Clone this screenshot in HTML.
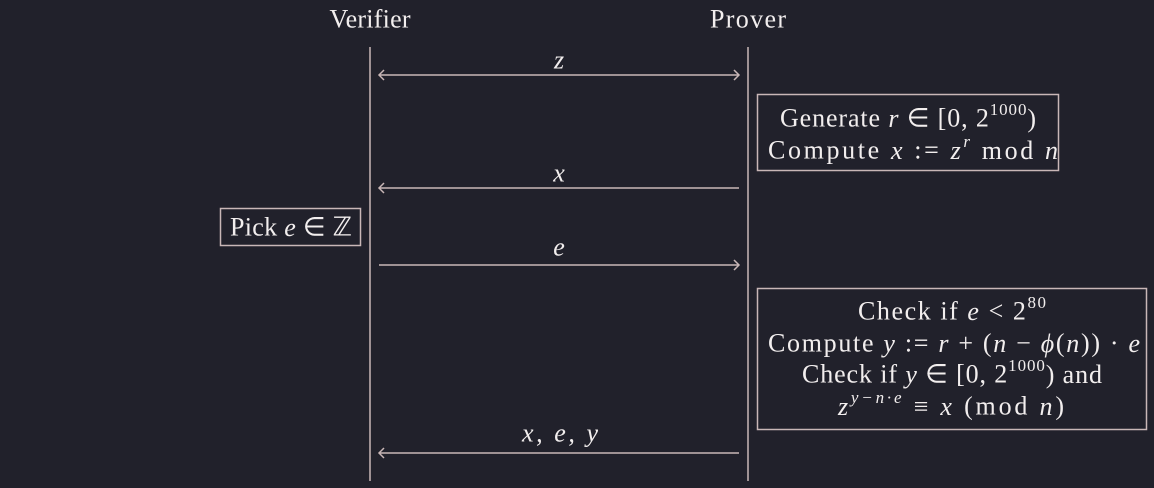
<!DOCTYPE html>
<html><head><meta charset="utf-8"><style>
html,body{margin:0;padding:0;background:#21212b;}
svg{display:block}
text{font-family:"Liberation Serif",serif;font-size:26px;fill:#f2eeee;text-anchor:middle;dominant-baseline:central}
.i{font-style:italic}
.s{font-size:17px}
</style></head><body>
<svg width="1154" height="488" viewBox="0 0 1154 488">
<g stroke="#c9b7b7" stroke-width="1.5" fill="none">
<line x1="370" y1="47" x2="370" y2="481"/>
<line x1="748" y1="47" x2="748" y2="481"/>
<g><line x1="379" y1="75" x2="739" y2="75"/><path d="M384 70 L379 75 L384 80 M734 70 L739 75 L734 80"/></g>
<g><line x1="379" y1="188" x2="739" y2="188"/><path d="M384 183 L379 188 L384 193"/></g>
<g><line x1="379" y1="265" x2="739" y2="265"/><path d="M734 260 L739 265 L734 270"/></g>
<g><line x1="379" y1="453" x2="739" y2="453"/><path d="M384 448 L379 453 L384 458"/></g>
<rect x="757.5" y="94.5" width="301" height="76"/>
<rect x="220.5" y="208.5" width="140" height="37"/>
<rect x="757.5" y="288.5" width="389" height="141"/>
</g>
<text x="370" y="19" textLength="81" lengthAdjust="spacing">Verifier</text>
<text x="748" y="19" textLength="76" lengthAdjust="spacing">Prover</text>
<text x="559" y="60" class="i">z</text>
<text x="559" y="173" class="i">x</text>
<text x="559" y="247" class="i">e</text>
<text x="560" y="433" class="i" textLength="76" lengthAdjust="spacing">x,  e,  y</text>
<text x="908" y="118" textLength="256" lengthAdjust="spacing">Generate <tspan class="i">r</tspan> ∈ [0, 2<tspan class="s" dy="-9">1000</tspan><tspan dy="9">)</tspan></text>
<text x="913" y="150" textLength="290" lengthAdjust="spacing">Compute <tspan class="i">x</tspan> := <tspan class="i">z</tspan><tspan class="s i" dy="-9">r</tspan><tspan dy="9"> mod </tspan><tspan class="i">n</tspan></text>
<text x="291" y="227" textLength="122" lengthAdjust="spacing">Pick <tspan class="i">e</tspan> ∈ ℤ</text>
<text x="952" y="311" textLength="188" lengthAdjust="spacing">Check if <tspan class="i">e</tspan> &lt; 2<tspan class="s" dy="-9">80</tspan></text>
<text x="954" y="343" textLength="372" lengthAdjust="spacing">Compute <tspan class="i">y</tspan> := <tspan class="i">r</tspan> + (<tspan class="i">n</tspan> − <tspan class="i">ϕ</tspan>(<tspan class="i">n</tspan>)) · <tspan class="i">e</tspan></text>
<text x="952" y="374" textLength="300" lengthAdjust="spacing">Check if <tspan class="i">y</tspan> ∈ [0, 2<tspan class="s" dy="-9">1000</tspan><tspan dy="9">) and</tspan></text>
<text x="951" y="406" textLength="226" lengthAdjust="spacing"><tspan class="i">z</tspan><tspan class="s i" dy="-9">y−n·e</tspan><tspan dy="9"> ≡ </tspan><tspan class="i">x</tspan> (mod <tspan class="i">n</tspan>)</text>
</svg>
</body></html>
